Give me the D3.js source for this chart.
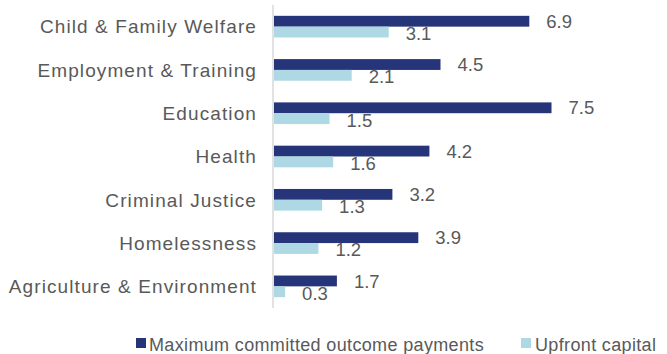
<!DOCTYPE html>
<html><head><meta charset="utf-8">
<script src="https://cdn.jsdelivr.net/npm/d3@7"></script>
<style>body{margin:0;background:#fff}svg{display:block}text{font-family:"Liberation Sans",Arial,sans-serif}</style>
</head><body><svg id="c" width="667" height="354"></svg>
<script>
const categories = ["Child & Family Welfare","Employment & Training","Education","Health","Criminal Justice","Homelessness","Agriculture & Environment"];
const maxOutcome = [6.9,4.5,7.5,4.2,3.2,3.9,1.7];
const upfront = [3.1,2.1,1.5,1.6,1.3,1.2,0.3];
const seriesNames = ["Maximum committed outcome payments","Upfront capital"];
const colors = ["#263479","#aed8e3"];

const svg = d3.select("#c");
const x = d3.scaleLinear().domain([0,9]).range([274,607]);
const y = d3.scaleBand().domain(categories).range([5,308]).paddingInner(0.5).paddingOuter(0.25);
const sub = d3.scaleBand().domain([0,1]).range([0,y.bandwidth()]);
const textCol = "#595959";

// axis line
svg.append("line").attr("x1",273).attr("x2",273).attr("y1",5).attr("y2",308).attr("stroke","#d9d9d9").attr("stroke-width",1.5);

const series = [maxOutcome, upfront];
series.forEach((vals,si)=>{
  const g = svg.append("g");
  g.selectAll("rect").data(vals).join("rect")
    .attr("x",x(0)).attr("y",(d,i)=>y(categories[i])+sub(si))
    .attr("width",d=>x(d)-x(0)).attr("height",sub.bandwidth())
    .attr("fill",colors[si]);
  g.selectAll("text").data(vals).join("text")
    .attr("x",d=>x(d)+17).attr("y",(d,i)=>y(categories[i])+sub(si)+sub.bandwidth()/2+6.6+(si?1.3:0))
    .attr("font-size",18.5).attr("fill",textCol).text(d=>d.toFixed(1));
});

// category labels
svg.append("g").selectAll("text").data(categories).join("text")
  .attr("x",257).attr("y",d=>y(d)+y.bandwidth()/2+6.8)
  .attr("text-anchor","end").attr("font-size",19).attr("letter-spacing",1.1)
  .attr("fill",textCol).text(d=>d);

// legend
const leg = [{sx:136,tx:149},{sx:521,tx:535}];
seriesNames.forEach((n,i)=>{
  svg.append("rect").attr("x",leg[i].sx).attr("y",338).attr("width",10).attr("height",10).attr("fill",colors[i]);
  svg.append("text").attr("x",leg[i].tx).attr("y",351).attr("font-size",18).attr("letter-spacing",0.35)
    .attr("fill",textCol).text(n);
});
</script></body></html>
